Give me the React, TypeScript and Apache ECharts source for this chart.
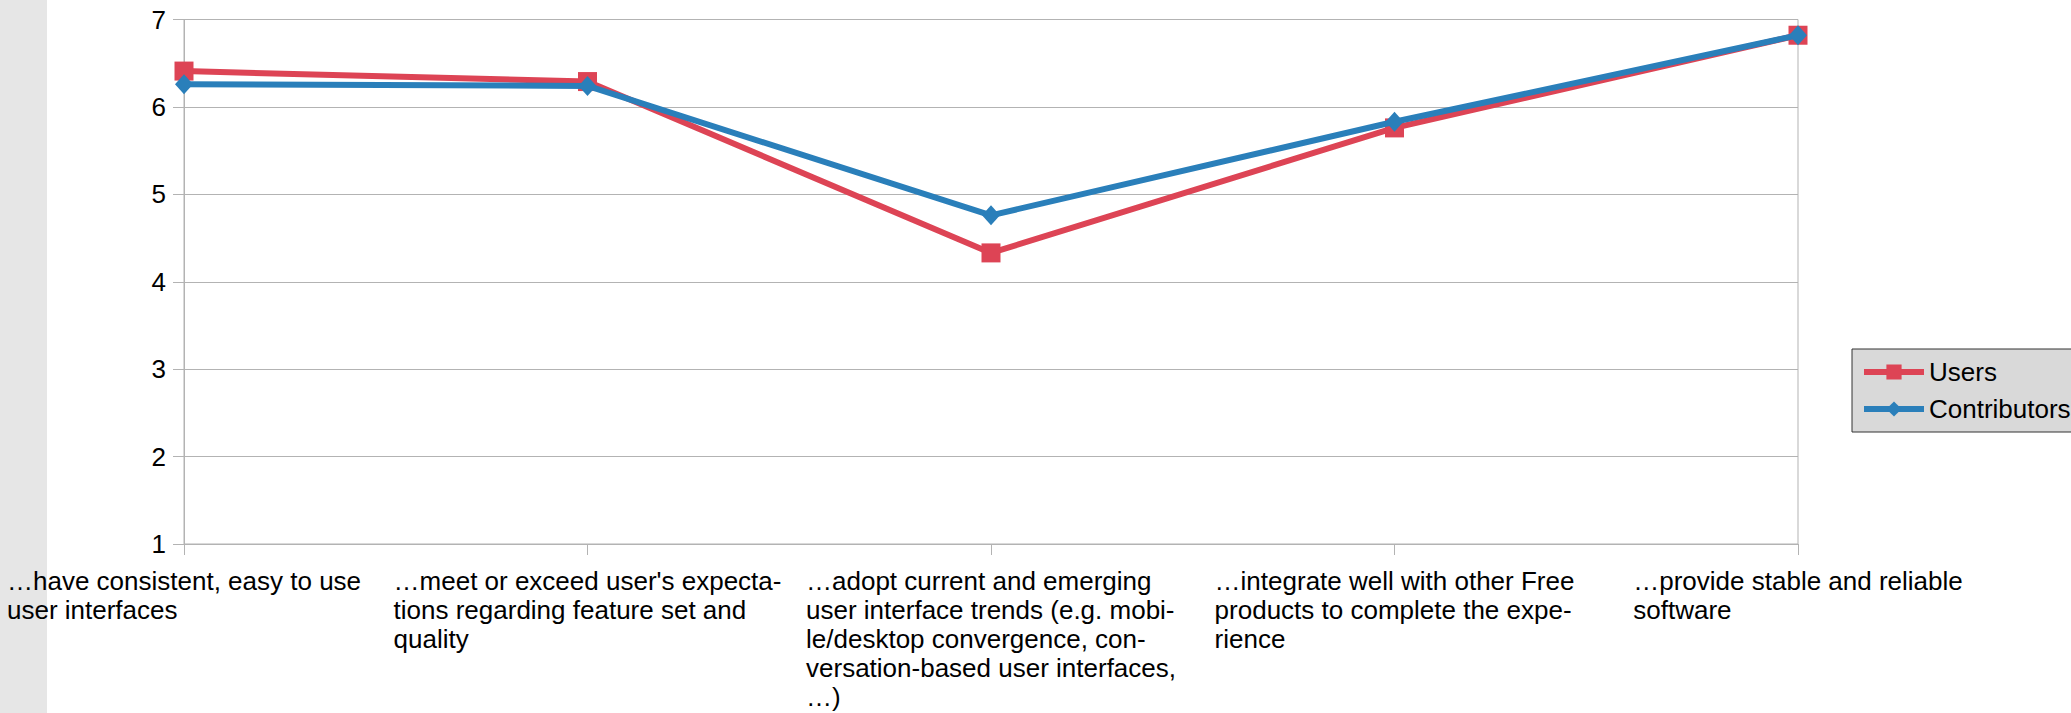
import React, { useEffect, useRef } from "react";
import * as echarts from "echarts";

const categories = [
  "…have consistent, easy to use\nuser interfaces",
  "…meet or exceed user's expecta-\ntions regarding feature set and\nquality",
  "…adopt current and emerging\nuser interface trends (e.g. mobi-\nle/desktop convergence, con-\nversation-based user interfaces,\n…)",
  "…integrate well with other Free\nproducts to complete the expe-\nrience",
  "…provide stable and reliable\nsoftware",
];
const usersValues = [6.41, 6.29, 4.33, 5.76, 6.82];
const contributorsValues = [6.26, 6.24, 4.76, 5.83, 6.82];
const seriesNames = ["Users", "Contributors"];
const yMin = 1;
const yMax = 7;
const yInterval = 1;

const FONT = "'Liberation Sans', Arial, sans-serif";
const GRID_GRAY = "#b3b3b3";
const FS = 26;

export default function App() {
  const ref = useRef<HTMLDivElement>(null);

  useEffect(() => {
    document.body.style.margin = "0";
    if (!ref.current) return;
    const chart = echarts.init(ref.current, undefined, { renderer: "svg" });
    chart.setOption({
      animation: false,
      backgroundColor: "#ffffff",
      graphic: [
        {
          type: "rect",
          left: 0,
          top: 0,
          z: -100,
          shape: { x: 0, y: 0, width: 47, height: 713 },
          style: { fill: "#e6e6e6" },
        },
      ],
      grid: {
        left: 184,
        right: 273,
        top: 19.5,
        bottom: 169,
        show: true,
        borderColor: GRID_GRAY,
        borderWidth: 1,
        backgroundColor: "transparent",
      },
      legend: {
        orient: "vertical",
        left: 1852,
        top: 349,
        itemWidth: 60,
        itemHeight: 19,
        itemGap: 11,
        padding: [10, 40, 10, 9],
        backgroundColor: "#d9d9d9",
        borderColor: "#333333",
        borderWidth: 1,
        borderRadius: 0,
        lineStyle: { width: 6 },
        textStyle: { fontSize: FS, color: "#000000", fontFamily: FONT },
        data: seriesNames,
      },
      xAxis: {
        type: "category",
        data: categories,
        boundaryGap: false,
        axisLine: { show: true, lineStyle: { color: GRID_GRAY, width: 1 } },
        axisTick: { show: true, length: 11, lineStyle: { color: GRID_GRAY } },
        splitLine: { show: false },
        axisLabel: {
          interval: 0,
          margin: 22,
          formatter: (v: string) =>
            v
              .split("\n")
              .map((l) => `{l|${l}}`)
              .join("\n"),
          rich: {
            l: {
              align: "left",
              fontSize: FS,
              lineHeight: 29,
              fontFamily: FONT,
              color: "#000000",
            },
          },
        },
      },
      yAxis: {
        type: "value",
        min: yMin,
        max: yMax,
        interval: yInterval,
        axisLine: { show: true, lineStyle: { color: GRID_GRAY, width: 1 } },
        axisTick: { show: true, length: 11, lineStyle: { color: GRID_GRAY } },
        splitLine: { show: true, lineStyle: { color: GRID_GRAY, width: 1 } },
        axisLabel: {
          margin: 18,
          fontSize: FS,
          fontFamily: FONT,
          color: "#000000",
        },
      },
      series: [
        {
          name: seriesNames[0],
          type: "line",
          data: usersValues,
          symbol: "rect",
          symbolSize: 19,
          lineStyle: { color: "#dd4455", width: 6 },
          itemStyle: { color: "#dd4455" },
          z: 2,
        },
        {
          name: seriesNames[1],
          type: "line",
          data: contributorsValues,
          symbol: "diamond",
          symbolSize: [18, 20],
          lineStyle: { color: "#2a7fba", width: 6 },
          itemStyle: { color: "#2a7fba" },
          z: 3,
        },
      ],
    });
    return () => chart.dispose();
  }, []);

  return <div ref={ref} style={{ width: 2071, height: 713 }} />;
}
